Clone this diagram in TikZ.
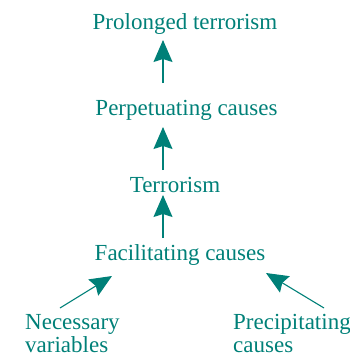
\documentclass[tikz,border=0pt]{standalone}
\usepackage{fontspec}
\setmainfont{Liberation Serif}
\usepackage{tikz}
\usetikzlibrary{arrows.meta}
\definecolor{causeteal}{RGB}{0, 128, 120}

\begin{document}
\begin{tikzpicture}[x=1pt, y=-1pt,
    label/.style={causeteal, inner sep=0pt, font=\fontsize{23}{22.5}\selectfont},
    causearrow/.style={causeteal, line width=1.1pt,
        -{Stealth[length=22pt, width=19pt, inset=3pt]}}]
    \useasboundingbox (0,0) rectangle (350,356);
    % levels
    \node[label, anchor=base] (prolonged) at (185,29) {Prolonged terrorism};
    \node[label, anchor=base] (perpetuating) at (186.5,115) {Perpetuating causes};
    \node[label, anchor=base] (terrorism) at (175,192) {Terrorism};
    \node[label, anchor=base] (facilitating) at (180,260) {Facilitating causes};
    % roots
    \node[label, anchor=base west, align=left] (necessary) at (25,352) {Necessary\\variables};
    \node[label, anchor=base west, align=left] (precipitating) at (233,352) {Precipitating\\causes};
    % arrows up the chain
    \draw[causearrow] ([shift={(-23.5,-32)}]perpetuating.base) -- ([shift={(-22,11)}]prolonged.base);
    \draw[causearrow] ([shift={(-12,-22)}]terrorism.base) -- ([shift={(-23.5,12)}]perpetuating.base);
    \draw[causearrow] ([shift={(-17,-22)}]facilitating.base) -- ([shift={(-12,3)}]terrorism.base);
    % side causes
    \draw[causearrow] ([shift={(35,-44)}]necessary.base west) -- ([shift={(-68,16)}]facilitating.base);
    \draw[causearrow] ([shift={(91,-44)}]precipitating.base west) -- ([shift={(86,13)}]facilitating.base);
\end{tikzpicture}
\end{document}
